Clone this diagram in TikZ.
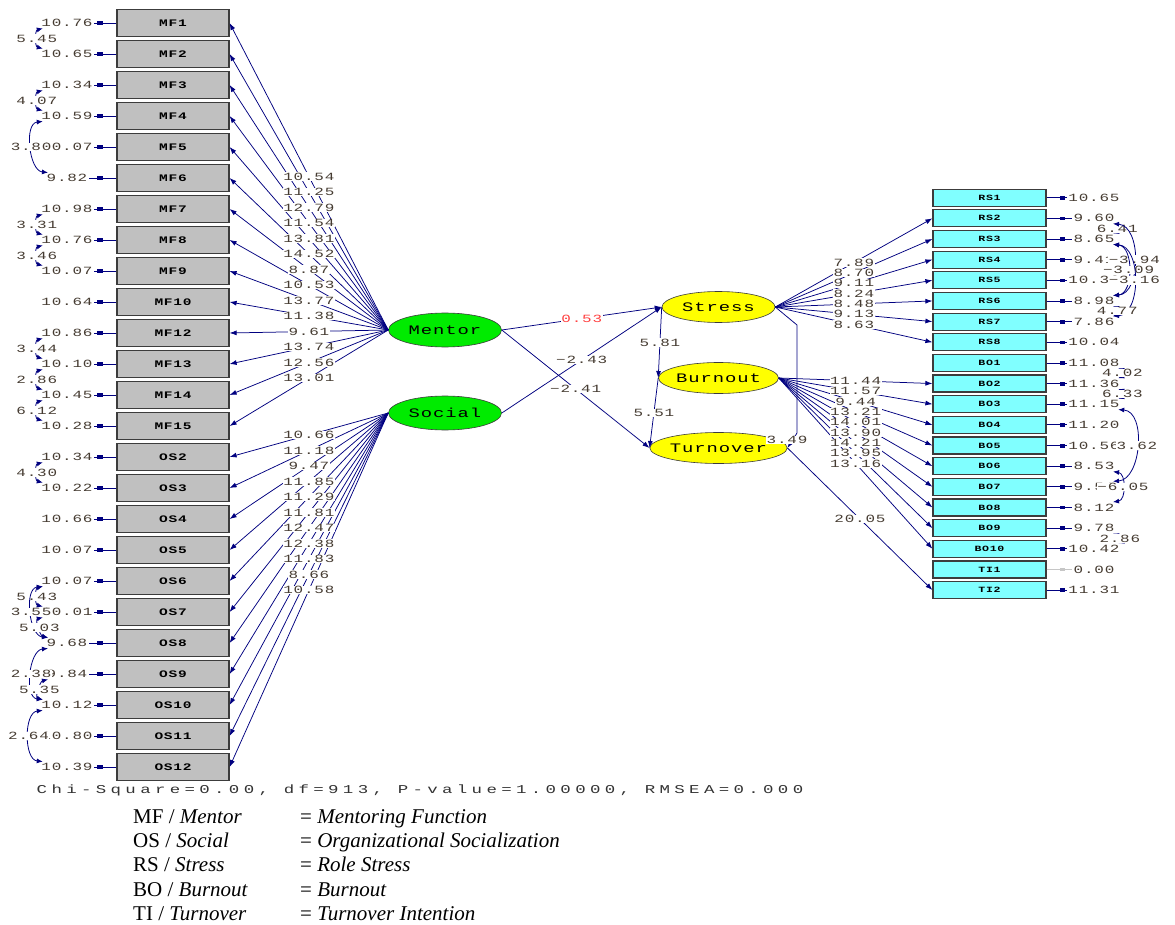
\documentclass[tikz,border=0pt]{standalone}
\usepackage{fontspec}
\usepackage{graphicx}
\setmainfont{Liberation Serif}
\newfontfamily\lisfont[LetterSpace=5]{Liberation Mono}
\newfontfamily\boxfont[LetterSpace=5]{Liberation Mono}
\newfontfamily\chifont[LetterSpace=25]{Liberation Mono}
\newcommand\lisw[1]{\scalebox{1.45}[1]{#1}}
\usetikzlibrary{arrows.meta,shapes.geometric}

\definecolor{lisnavy}{RGB}{0,0,128}
\definecolor{listext}{RGB}{70,60,50}
\definecolor{boxgray}{RGB}{192,192,192}
\definecolor{boxcyan}{RGB}{128,255,255}
\definecolor{boxline}{RGB}{60,60,60}
\definecolor{exogreen}{RGB}{0,235,0}
\definecolor{endoyellow}{RGB}{255,255,0}

\tikzset{
  mfbox/.style={draw=boxline, line width=1.2pt, fill=boxgray, minimum width=112pt,
    minimum height=27pt, inner sep=0pt, font=\boxfont\bfseries\fontsize{10}{10}\selectfont},
  rsbox/.style={mfbox, fill=boxcyan, minimum width=113pt, minimum height=17pt,
    font=\boxfont\bfseries\fontsize{8}{8}\selectfont},
  latent/.style={ellipse, draw=boxline, line width=0.6pt, minimum width=113pt,
    minimum height=31pt, inner sep=0pt, font=\lisfont\fontsize{13}{13}\selectfont},
  load/.style={lisnavy, line width=0.75pt, -{Latex[length=7pt,width=5pt]}},
  tval/.style={text=listext, fill=white, inner sep=0.5pt, font=\lisfont\fontsize{11}{11}\selectfont},
  errval/.style={text=listext, inner sep=1.5pt, font=\lisfont\fontsize{11}{11}\selectfont},
  errline/.style={lisnavy, line width=0.75pt},
  errtip/.style={lisnavy, line width=0.75pt, -{Rectangle[length=5pt,width=3.5pt]}},
  covarc/.style={lisnavy, line width=0.8pt, {Latex[length=6pt,width=5pt]}-{Latex[length=6pt,width=5pt]}},
  covval/.style={text=listext, fill=white, inner sep=0.5pt, font=\lisfont\fontsize{11}{11}\selectfont},
  legend/.style={anchor=base west, inner sep=0pt, font=\fontsize{21}{21}\selectfont},
}

% indicators of Mentor and Social: name/latent/t-value/error
\def\leftlist{MF1/Mentor/10.54/10.76, MF2/Mentor/11.25/10.65, MF3/Mentor/12.79/10.34,
  MF4/Mentor/11.54/10.59, MF5/Mentor/13.81/10.07, MF6/Mentor/14.52/9.82, MF7/Mentor/8.87/10.98,
  MF8/Mentor/10.53/10.76, MF9/Mentor/13.77/10.07, MF10/Mentor/11.38/10.64, MF12/Mentor/9.61/10.86,
  MF13/Mentor/13.74/10.10, MF14/Mentor/12.56/10.45, MF15/Mentor/13.01/10.28,
  OS2/Social/10.66/10.34, OS3/Social/11.18/10.22, OS4/Social/9.47/10.66, OS5/Social/11.85/10.07,
  OS6/Social/11.29/10.07, OS7/Social/11.81/10.01, OS8/Social/12.47/9.68, OS9/Social/12.38/9.84,
  OS10/Social/11.83/10.12, OS11/Social/8.66/10.80, OS12/Social/10.58/10.39}
% indicators on the right: name/error/colour
\def\rightlist{RS1/10.65/lisnavy, RS2/9.60/lisnavy, RS3/8.65/lisnavy, RS4/9.41/lisnavy,
  RS5/10.36/lisnavy, RS6/8.98/lisnavy, RS7/7.86/lisnavy, RS8/10.04/lisnavy, BO1/11.08/lisnavy,
  BO2/11.36/lisnavy, BO3/11.15/lisnavy, BO4/11.20/lisnavy, BO5/10.56/lisnavy, BO6/8.53/lisnavy,
  BO7/9.51/lisnavy, BO8/8.12/lisnavy, BO9/9.78/lisnavy, BO10/10.42/lisnavy, TI1/0.00/gray!45,
  TI2/11.31/lisnavy}
\def\rightloads{Stress/RS2/7.89, Stress/RS3/8.70, Stress/RS4/9.11, Stress/RS5/8.24,
  Stress/RS6/8.48, Stress/RS7/9.13, Stress/RS8/8.63, Burnout/BO2/11.44, Burnout/BO3/11.57,
  Burnout/BO4/9.44, Burnout/BO5/13.21, Burnout/BO6/14.01, Burnout/BO7/13.90, Burnout/BO8/14.21,
  Burnout/BO9/13.95, Burnout/BO10/13.16, Turnover/TI2/20.05}
% error covariances: from/to/gap/value
\def\leftcov{MF1/MF2/1/5.45, MF3/MF4/1/4.07, MF4/MF6/2/3.80, MF7/MF8/1/3.31, MF8/MF9/1/3.46,
  MF12/MF13/1/3.44, MF13/MF14/1/2.86, MF14/MF15/1/6.12, OS2/OS3/1/4.30, OS6/OS7/1/5.43,
  OS6/OS8/2/3.55, OS7/OS8/1/5.03, OS8/OS10/2/2.38, OS9/OS10/1/5.35, OS10/OS12/2/2.64}
\def\rightcov{RS2/RS3/1/6.41, RS2/RS6/4/−3.94, RS3/RS6/3/−3.09, RS3/RS7/4/−3.16, RS6/RS7/1/4.77,
  BO1/BO2/1/4.02, BO2/BO3/1/6.33, BO3/BO7/4/3.62, BO6/BO8/2/−6.05, BO9/BO10/1/2.86}

\begin{document}
\begin{tikzpicture}[x=1pt,y=-1pt]
  \fill[white] (0,0) rectangle (1175,925);
  \useasboundingbox (0,0) rectangle (1175,925);

  \node[latent, fill=exogreen, minimum height=34pt] (Mentor) at (445,330) {\lisw{Mentor}};
  \node[latent, fill=exogreen, minimum height=34pt] (Social) at (445,413) {\lisw{Social}};
  \node[latent, fill=endoyellow] (Stress) at (718.5,307) {\lisw{Stress}};
  \node[latent, fill=endoyellow] (Burnout) at (718.5,378) {\lisw{Burnout}};
  \node[latent, fill=endoyellow] (Turnover) at (718.5,448) {\lisw{Turnover}};

  \foreach \nm/\lv/\ld/\er [count=\i from 0] in \leftlist {
    \node[mfbox] (\nm) at (173,{23+31*\i}) {\lisw{\nm}};
    \node[errval] (e\nm) at (67,{23+31*\i}) {\lisw{\er}};
    \draw[errline] (e\nm) -- (\nm);
    \draw[errtip] (\nm.west) -- ++(-19,0);
    \draw[load] (\lv.west) -- (\nm.east);
  }
  \foreach \nm/\lv/\ld/\er in \leftlist
    \path (\lv.west) -- (\nm.east) node[midway, tval] {\lisw{\ld}};

  \foreach \nm/\er/\ec [count=\j from 0] in \rightlist {
    \node[rsbox] (\nm) at (989.5,{197.7+20.65*\j}) {\lisw{\nm}};
    \node[errval] (e\nm) at (1094,{197.7+20.65*\j}) {\lisw{\er}};
    \draw[errline, color=\ec] (\nm) -- (e\nm);
    \draw[errtip, color=\ec] (\nm.east) -- ++(18,0);
  }
  \foreach \lv/\nm/\ld in \rightloads
    \draw[load] (\lv.east) -- (\nm.west);
  \foreach \lv/\nm/\ld in \rightloads
    \path (\lv.east) -- (\nm.west) node[midway, tval] {\lisw{\ld}};

  % structural paths
  \draw[load] (Mentor.east) -- (Stress.west) node[midway, tval, text=red!75] {\lisw{0.53}};
  \draw[load] (Social.east) -- (Stress.west) node[midway, tval] {\lisw{−2.43}};
  \draw[load] (Mentor.east) -- (Turnover.west) node[midway, tval] {\lisw{−2.41}};
  \draw[load] (Stress.west) -- (Burnout.west) node[midway, tval] {\lisw{5.81}};
  \draw[load] (Burnout.west) -- (Turnover.west) node[midway, tval] {\lisw{5.51}};
  \coordinate (bendA) at (797,325);
  \coordinate (bendB) at (797,433);
  \draw[load] (Stress.east) -- (bendA) -- (bendB) -- (Turnover.east);
  \node[tval] (t349) at (787,440) {\lisw{3.49}};

  % error covariances
  \foreach \ca/\cb/\cg/\cv in \leftcov {
    \pgfmathsetmacro\kk{11*\cg-3}
    \draw[covarc] ([xshift=3pt]e\ca.south west) .. controls +(-\kk,2) and +(-\kk,-2) ..
      ([xshift=3pt]e\cb.north west) node[pos=0.5, covval] {\lisw{\cv}};
  }
  \foreach \ca/\cb/\cg/\cv in \rightcov {
    \pgfmathsetmacro\kk{7.6*\cg-2}
    \draw[covarc] ([xshift=-3pt]e\ca.south east) .. controls +(\kk,2) and +(\kk,-2) ..
      ([xshift=-3pt]e\cb.north east) node[pos=0.5, covval] {\lisw{\cv}};
  }

  \node[font=\chifont\fontsize{12}{12}\selectfont, text=black!80] (chi) at (420,790)
    {\lisw{Chi-Square=0.00, df=913, P-value=1.00000, RMSEA=0.000}};

  \node[legend] (k1) at (133,823) {MF / \textit{Mentor}};
  \node[legend] (k2) at (133,847) {OS / \textit{Social}};
  \node[legend] (k3) at (133,871) {RS / \textit{Stress}};
  \node[legend] (k4) at (133,896) {BO / \textit{Burnout}};
  \node[legend] (k5) at (133,920) {TI / \textit{Turnover}};
  \node[legend] (d1) at (300,823) {= \textit{Mentoring Function}};
  \node[legend] (d2) at (300,847) {= \textit{Organizational Socialization}};
  \node[legend] (d3) at (300,871) {= \textit{Role Stress}};
  \node[legend] (d4) at (300,896) {= \textit{Burnout}};
  \node[legend] (d5) at (300,920) {= \textit{Turnover Intention}};
\end{tikzpicture}
\end{document}
